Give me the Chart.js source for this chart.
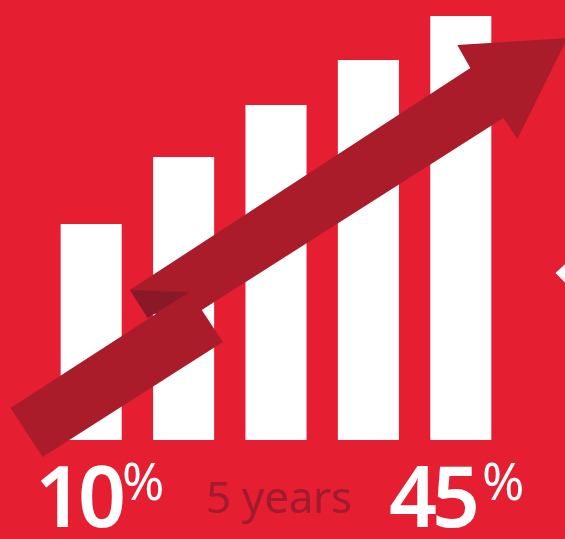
<!DOCTYPE html>
<html>
<head>
<meta charset="utf-8">
<script src="https://cdn.jsdelivr.net/npm/chart.js@4/dist/chart.umd.min.js"></script>
<style>
    html, body { margin: 0; padding: 0; background: #E51E31; }
    .wrap { position: relative; width: 565px; height: 539px; overflow: hidden; background: #E51E31; }
    .lbl { position: absolute; line-height: 1; font-family: "Noto Sans", sans-serif; white-space: nowrap; }
    .big { color: #fff; font-size: 84px; font-weight: 600; letter-spacing: -5px; top: 453px; }
    .pct { color: #fff; font-size: 51px; font-weight: 400; top: 455px; }
    .mid { color: #A01B2D; font-size: 44px; font-weight: 400; letter-spacing: -0.3px; top: 474px; left: 206px; }
</style>
</head>
<body>
<div class="wrap">
    <canvas id="growthChart"></canvas>
    <div class="lbl big" style="left:35px">10</div>
    <div class="lbl pct" style="left:122px">%</div>
    <div class="lbl mid">5 years</div>
    <div class="lbl big" style="left:389px">45</div>
    <div class="lbl pct" style="left:482px">%</div>
</div>
<script>
const years = ['Year 1', 'Year 2', 'Year 3', 'Year 4', 'Year 5'];
const growth = [21.6, 28.3, 33.5, 38.0, 42.4];
const startLabel = '10%';
const endLabel = '45%';

// zigzag arrow, in chart units (x = category index, y = value)
const arrowUpper = [[0.417, 15.0], [4.103, 37.2], [3.962, 39.5], [5.154, 40.2], [4.612, 30.1], [4.461, 32.2], [0.873, 11.1]];
const arrowFold = [[0.417, 15.0], [1.068, 14.8], [0.612, 12.2]];
const arrowLower = [[-0.873, 3.2], [1.068, 14.8], [1.425, 9.8], [-0.526, -1.7]];
const sideNotch = [[5.024, 16.7], [5.144, 17.7], [5.144, 15.6]];

const arrowPlugin = {
    id: 'arrow',
    afterDatasetsDraw(chart) {
        const { ctx, scales: { x, y } } = chart;
        const poly = (pts, color) => {
            ctx.beginPath();
            pts.forEach(([a, b], i) => {
                const px = x.getPixelForValue(a), py = y.getPixelForValue(b);
                i ? ctx.lineTo(px, py) : ctx.moveTo(px, py);
            });
            ctx.closePath();
            ctx.fillStyle = color;
            ctx.fill();
        };
        ctx.save();
        poly(arrowUpper, '#AB1C2B');
        poly(arrowFold, '#8A1928');
        poly(arrowLower, '#AB1C2B');
        poly(sideNotch, '#ffffff');
        ctx.restore();
    }
};

new Chart(document.getElementById('growthChart'), {
    type: 'bar',
    data: {
        labels: years,
        datasets: [{
            label: startLabel + ' to ' + endLabel,
            data: growth,
            backgroundColor: '#ffffff',
            borderWidth: 0,
            barPercentage: 0.661,
            categoryPercentage: 1
        }]
    },
    options: {
        responsive: true,
        maintainAspectRatio: false,
        animation: false,
        layout: { padding: { left: 45, right: 58, top: 0, bottom: 99 } },
        plugins: { legend: { display: false }, tooltip: { enabled: false } },
        scales: {
            x: { display: false },
            y: { display: false, min: 0, max: 44 }
        }
    },
    plugins: [arrowPlugin]
});
</script>
</body>
</html>
